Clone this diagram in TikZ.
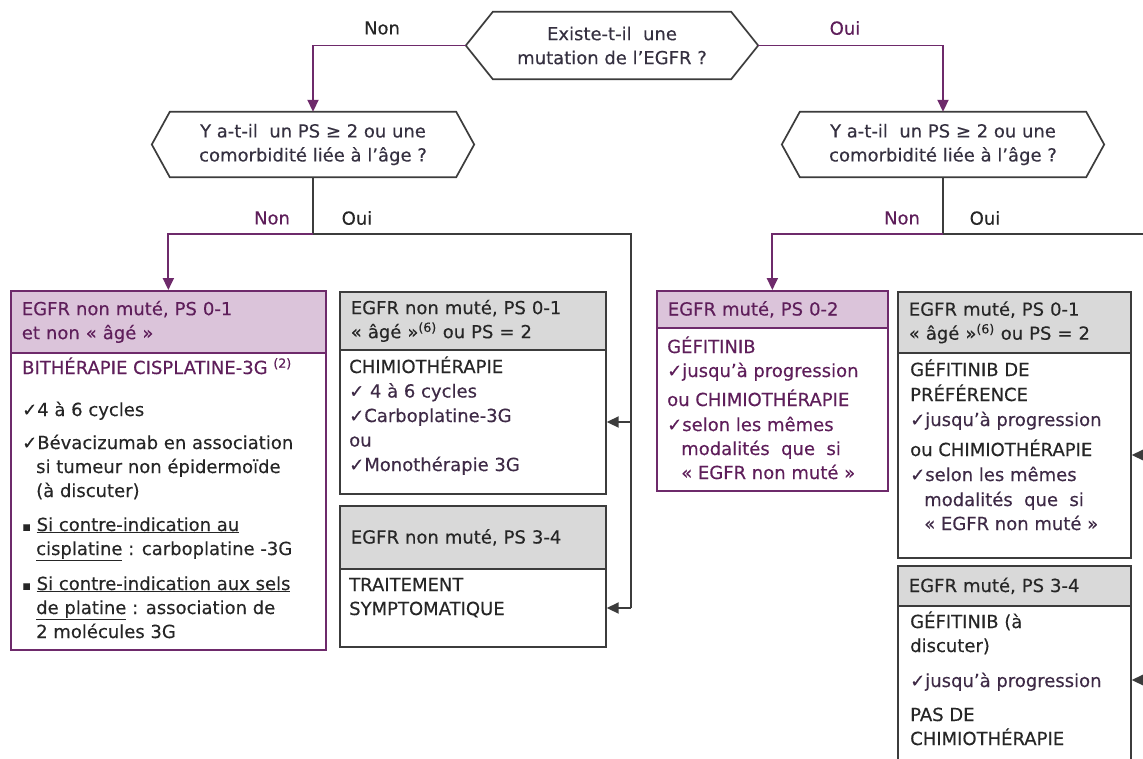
\documentclass[tikz,border=0pt]{standalone}
\usepackage{fontspec}
\setmainfont{DejaVu Sans}[FakeBold=0.3]
\usetikzlibrary{arrows.meta,calc}
\definecolor{purp}{HTML}{6E2A6B}
\definecolor{purptxt}{HTML}{5E1E5A}
\definecolor{lilac}{HTML}{DBC4DA}
\definecolor{grayfill}{HTML}{D9D9D9}
\definecolor{dline}{HTML}{3C3C3C}
\definecolor{dtxt}{HTML}{262626}
\definecolor{dptxt}{HTML}{3E2A46}
\definecolor{hextxt}{HTML}{353040}
\newcommand\ck{{\fontsize{18}{14}\selectfont ✓}}
\newcommand\sqb{{\fontsize{13}{13}\selectfont ▪}}
\newcommand\ind{\hspace*{14pt}}
\tikzset{
  basefont/.style={font=\fontsize{18}{24}\selectfont},
  hexbox/.style={draw=none, align=center, text=hextxt, inner sep=0pt, basefont},
  hexline/.style={draw=dline, line width=1.7pt, line join=miter},
  hdrP/.style={draw=purp, fill=lilac, line width=1.7pt, anchor=north west, align=left, text=purptxt, inner xsep=11pt, inner ysep=0pt, basefont},
  hdrG/.style={draw=dline, fill=grayfill, line width=1.7pt, anchor=north west, align=left, text=dtxt, inner xsep=11pt, inner ysep=0pt, basefont},
  bodyP/.style={draw=purp, fill=white, line width=1.7pt, anchor=north west, inner sep=0pt},
  bodyG/.style={draw=dline, fill=white, line width=1.7pt, anchor=north west, inner sep=0pt},
  txt/.style={anchor=north west, align=left, inner sep=0pt, basefont},
  lbl/.style={inner sep=1pt, basefont},
  tip/.style={-{Triangle[width=11pt,length=12pt]}},
  pline/.style={draw=purp, line width=1.9pt},
  gline/.style={draw=dline, line width=1.9pt},
  pconn/.style={pline, tip, color=purp},
  gconn/.style={gline, tip, color=dline},
}
\begin{document}
\begin{tikzpicture}[x=1pt,y=-1pt]
\useasboundingbox (0,0) rectangle (1143,758);
\clip (0,0) rectangle (1143,758);
\fill[white] (0,0) rectangle (1143,758);

% decision hexagons
\node[hexbox, minimum width=238pt, minimum height=67pt] (q0) at (612,45.5) {Existe-t-il~ une\\mutation de l’EGFR ?};
\coordinate (q0L) at ($(q0.west)+(-27,0)$);
\coordinate (q0R) at ($(q0.east)+(27,0)$);
\draw[hexline] (q0.north west) -- (q0.north east) -- (q0R) -- (q0.south east) -- (q0.south west) -- (q0L) -- cycle;

\node[hexbox, minimum width=286pt, minimum height=65pt] (q1) at (313,144.5) {Y a-t-il~ un PS ≥ 2 ou une\\comorbidité liée à l’âge ?};
\coordinate (q1L) at ($(q1.west)+(-18,0)$);
\coordinate (q1R) at ($(q1.east)+(18,0)$);
\draw[hexline] (q1.north west) -- (q1.north east) -- (q1R) -- (q1.south east) -- (q1.south west) -- (q1L) -- cycle;

\node[hexbox, minimum width=286pt, minimum height=65pt] (q2) at (943,144.5) {Y a-t-il~ un PS ≥ 2 ou une\\comorbidité liée à l’âge ?};
\coordinate (q2L) at ($(q2.west)+(-18,0)$);
\coordinate (q2R) at ($(q2.east)+(18,0)$);
\draw[hexline] (q2.north west) -- (q2.north east) -- (q2R) -- (q2.south east) -- (q2.south west) -- (q2L) -- cycle;

% boxes: left column
\node[bodyP, minimum width=315pt, minimum height=297pt] (b1) at (10,352) {};
\node[hdrP, minimum width=315pt, minimum height=62pt, text width=293pt] (h1) at (10,290) {EGFR non muté, PS 0-1\\et non «~âgé~»};
\node[txt, text=dtxt] (t1) at ($(b1.north west)+(12,5)$) {%
{\color{purptxt}\strut BITHÉRAPIE CISPLATINE-3G \textsuperscript{(2)}}\\[18pt]
\ck 4 à 6 cycles\\[9pt]
\ck Bévacizumab en association\\
\ind si tumeur non épidermoïde\\
\ind (à discuter)\\[10pt]
\sqb\ \underline{Si contre-indication au}\\
\ind\underline{cisplatine} : carboplatine -3G\\[11pt]
\sqb\ \underline{Si contre-indication aux sels}\\
\ind\underline{de platine} : association de\\
\ind 2 molécules 3G};

% middle column
\node[bodyG, minimum width=266pt, minimum height=144pt] (b2) at (339,349) {};
\node[hdrG, minimum width=266pt, minimum height=58pt, text width=244pt] (h2) at (339,291) {EGFR non muté, PS 0-1\\«~âgé~»\textsuperscript{(6)} ou PS = 2};
\node[txt, text=dptxt] (t2) at ($(b2.north west)+(10,7)$) {%
{\color{dtxt}\strut CHIMIOTHÉRAPIE}\\[0.5pt]
\ck\ 4 à 6 cycles\\[0.5pt]
\ck Carboplatine-3G\\[0.5pt]
ou\\[0.5pt]
\ck Monothérapie 3G};

\node[bodyG, minimum width=266pt, minimum height=78pt] (b3) at (339,568) {};
\node[hdrG, minimum width=266pt, minimum height=63pt, text width=244pt] (h3) at (339,505) {EGFR non muté, PS 3-4};
\node[txt, text=dtxt] (t3) at ($(b3.north west)+(10,6)$) {\strut TRAITEMENT\\SYMPTOMATIQUE};

% right column
\node[bodyP, minimum width=231pt, minimum height=163pt] (b4) at (656,327) {};
\node[hdrP, minimum width=231pt, minimum height=37pt, text width=209pt] (h4) at (656,290) {EGFR muté, PS 0-2};
\node[txt, text=purptxt] (t4) at ($(b4.north west)+(11,9)$) {%
\strut GÉFITINIB\\
\ck jusqu’à progression\\[5pt]
ou CHIMIOTHÉRAPIE\\[1pt]
\ck selon les mêmes\\
\ind modalités~ que~ si\\
\ind «~EGFR non muté~»};

\node[bodyG, minimum width=233pt, minimum height=205pt] (b5) at (897,352) {};
\node[hdrG, minimum width=233pt, minimum height=61pt, text width=211pt] (h5) at (897,291) {EGFR muté, PS 0-1\\«~âgé~»\textsuperscript{(6)} ou PS = 2};
\node[txt, text=dptxt] (t5) at ($(b5.north west)+(13,7)$) {%
{\color{dtxt}\strut GÉFITINIB DE}\\[1pt]
{\color{dtxt}PRÉFÉRENCE}\\[1pt]
\ck jusqu’à progression\\[6pt]
{\color{dtxt}ou CHIMIOTHÉRAPIE}\\[1pt]
\ck selon les mêmes\\[1pt]
\ind modalités~ que~ si\\
\ind «~EGFR non muté~»};

\node[bodyG, minimum width=233pt, minimum height=200pt] (b6) at (897,605) {};
\node[hdrG, minimum width=233pt, minimum height=40pt, text width=211pt] (h6) at (897,565) {EGFR muté, PS 3-4};
\node[txt, text=dtxt] (t6) at ($(b6.north west)+(13,6)$) {%
\strut GÉFITINIB (à\\
discuter)\\[11pt]
{\color{dptxt}\ck jusqu’à progression}\\[10pt]
PAS DE\\
CHIMIOTHÉRAPIE};

% connectors
\draw[pconn] (q0L) -| (q1.north);
\draw[pconn] (q0R) -| (q2.north);

\coordinate (j1) at (313,234);
\coordinate (v1) at (631,234);
\coordinate (v1a) at (631,422);
\coordinate (v1b) at (631,608);
\draw[gline] (q1.south) -- (j1);
\draw[pconn] (j1) -| (h1.north);
\draw[gline, line join=miter] (j1) -- (v1) -- (v1b);
\draw[gconn] (v1a) -- (v1a -| b2.east);
\draw[gconn] (v1b) -- (v1b -| b3.east);

\coordinate (j2) at (943,234);
\coordinate (e2) at (1150,234);
\coordinate (e3) at (1150,455);
\coordinate (e4) at (1150,680);
\draw[gline] (q2.south) -- (j2);
\draw[pconn] (j2) -| (h4.north);
\draw[gline] (j2) -- (e2);
\draw[gconn] (e3) -- (e3 -| b5.east);
\draw[gconn] (e4) -- (e4 -| b6.east);

% labels
\node[lbl, text=dtxt] (n0) at (382,28) {Non};
\node[lbl, text=purptxt] (o0) at (845,28) {Oui};
\node[lbl, text=purptxt] (n1) at (272,218) {Non};
\node[lbl, text=dtxt] (o1) at (357,218) {Oui};
\node[lbl, text=purptxt] (n2) at (902,218) {Non};
\node[lbl, text=dtxt] (o2) at (985,218) {Oui};
\end{tikzpicture}
\end{document}
